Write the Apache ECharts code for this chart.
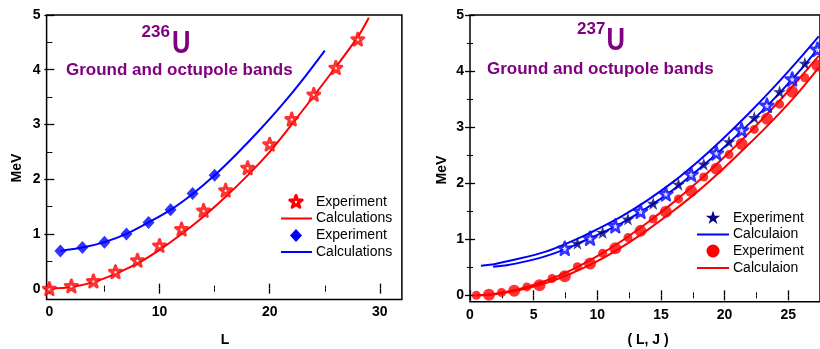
<!DOCTYPE html>
<html>
<head>
<meta charset="utf-8">
<script src="https://cdn.jsdelivr.net/npm/echarts@6/dist/echarts.min.js"></script>
<style>
html,body{margin:0;padding:0;background:#fff;}
#chart{width:820px;height:349px;}
</style>
</head>
<body>
<div id="chart"></div>
<script>
// ---------- Left panel: 236U ----------
const u236GroundL = [0, 2, 4, 6, 8, 10, 12, 14, 16, 18, 20, 22, 24, 26, 28];
const u236GroundExp = [0, 0.05, 0.14, 0.31, 0.52, 0.79, 1.09, 1.43, 1.80, 2.21, 2.64, 3.10, 3.55, 4.04, 4.56];
const u236OctL = [1, 3, 5, 7, 9, 11, 13, 15];
const u236OctExp = [0.69, 0.75, 0.85, 1.00, 1.21, 1.44, 1.74, 2.07];
const u236GroundCalcL = [0, 2, 4, 6, 8, 10, 12, 14, 16, 18, 20, 22, 24, 26, 28, 29];
const u236GroundCalc = [0, 0.03, 0.12, 0.27, 0.46, 0.71, 1.00, 1.32, 1.68, 2.07, 2.50, 3.00, 3.52, 4.05, 4.60, 4.95];
const u236OctCalcL = [1, 3, 5, 7, 9, 11, 13, 15, 17, 19, 21, 23, 25];
const u236OctCalc = [0.69, 0.75, 0.85, 1.00, 1.21, 1.44, 1.73, 2.07, 2.46, 2.88, 3.33, 3.82, 4.35];

// ---------- Right panel: 237U ----------
const u237RedJ = [0.5, 1.5, 2.5, 3.5, 4.5, 5.5, 6.5, 7.5, 8.5, 9.5, 10.5, 11.5, 12.5, 13.5, 14.5, 15.5, 16.5, 17.5, 18.5, 19.5, 20.5, 21.5, 22.5, 23.5, 24.5, 25.5, 26.5, 27.5];
const u237RedExp = [0.0, 0.01, 0.05, 0.08, 0.15, 0.18, 0.30, 0.34, 0.51, 0.57, 0.75, 0.84, 1.03, 1.15, 1.36, 1.49, 1.72, 1.86, 2.11, 2.26, 2.51, 2.70, 2.96, 3.15, 3.41, 3.63, 3.88, 4.10];
const u237StarJ = [7.5, 8.5, 9.5, 10.5, 11.5, 12.5, 13.5, 14.5, 15.5, 16.5, 17.5, 18.5, 19.5, 20.5, 21.5, 22.5, 23.5, 24.5, 25.5, 26.5, 27.5];
const u237StarExp = [0.84, 0.93, 1.02, 1.12, 1.24, 1.36, 1.50, 1.64, 1.81, 1.98, 2.16, 2.34, 2.54, 2.74, 2.95, 3.17, 3.39, 3.63, 3.86, 4.14, 4.39];
const u237BlueCalc1J = [0.86, 2, 4, 6, 7.5, 9, 10, 12, 14, 16, 18, 20, 22, 24, 26, 27.6];
const u237BlueCalc1 = [0.53, 0.56, 0.66, 0.78, 0.91, 1.06, 1.17, 1.41, 1.69, 2.01, 2.38, 2.79, 3.23, 3.70, 4.20, 4.62];
const u237BlueCalc2J = [1.83, 3, 4.5, 6, 7.5, 9, 10, 12, 14, 16, 18, 20, 22, 24, 26, 27.6];
const u237BlueCalc2 = [0.51, 0.54, 0.61, 0.70, 0.82, 0.97, 1.07, 1.29, 1.56, 1.87, 2.23, 2.62, 3.04, 3.49, 3.98, 4.42];
const u237RedCalc1J = [0.5, 2, 4, 6, 8, 10, 12, 14, 16, 18, 20, 22, 24, 26, 27.6];
const u237RedCalc1 = [0, 0.03, 0.12, 0.26, 0.45, 0.69, 0.97, 1.29, 1.64, 2.02, 2.44, 2.88, 3.35, 3.85, 4.27];
const u237RedCalc2J = [0.5, 2, 4, 6, 8, 10, 12, 14, 16, 18, 20, 22, 24, 26, 27.6];
const u237RedCalc2 = [0, 0.02, 0.10, 0.22, 0.39, 0.60, 0.86, 1.16, 1.49, 1.85, 2.25, 2.68, 3.13, 3.62, 4.06];

// ---------- Text ----------
const leftTitleSup = '236';
const rightTitleSup = '237';
const titleElement = 'U';
const subtitle = 'Ground and octupole bands';
const yName = 'MeV';
const leftXName = 'L';
const rightXName = '( L, J )';
const leftLegend = ['Experiment', 'Calculations', 'Experiment', 'Calculations'];
const rightLegend = ['Experiment', 'Calculaion', 'Experiment', 'Calculaion'];

const zip = (xs, ys) => xs.map((x, i) => [x, ys[i]]);
const FONT = '"Liberation Sans", Arial, sans-serif';
const RED = '#FF0000', BLUE = '#0000FF', NAVY = '#000080', PURPLE = '#800080';
const starPath = 'path://M0,-1L0.2245,-0.309L0.951,-0.309L0.363,0.118L0.588,0.809L0,0.382L-0.588,0.809L-0.363,0.118L-0.951,-0.309L-0.2245,-0.309Z';

function tickAxis(extra) {
  return Object.assign({
    type: 'value',
    axisLine: { show: false },
    axisTick: { show: true, inside: true, length: 5, lineStyle: { color: '#000', width: 1.3 } },
    minorTick: { show: true, splitNumber: 2, length: 3, lineStyle: { color: '#000', width: 1 } },
    splitLine: { show: false },
    minorSplitLine: { show: false },
    axisLabel: { show: true, color: '#000', fontWeight: 'bold', fontSize: 14, fontFamily: FONT, margin: 6 }
  }, extra);
}
function noLabel(a) { a.axisLabel = { show: false }; return a; }

function starPoints(cx, cy, R) {
  const pts = [];
  for (let i = 0; i < 10; i++) {
    const ang = -Math.PI / 2 + i * Math.PI / 5;
    const r = i % 2 === 0 ? R : R * 0.382;
    pts.push([cx + r * Math.cos(ang), cy + r * Math.sin(ang)]);
  }
  return pts;
}

const legendFont = '14px ' + FONT;
const graphic = [
  // Left title
  { type: 'text', x: 141.5, y: 32.5, style: { text: leftTitleSup, font: 'bold 17px ' + FONT, fill: PURPLE, align: 'left', verticalAlign: 'middle' } },
  { type: 'text', x: 172, y: 44, scaleX: 0.8, style: { text: titleElement, font: 'bold 32px ' + FONT, fill: PURPLE, align: 'left', verticalAlign: 'middle' } },
  { type: 'text', x: 66, y: 70, style: { text: subtitle, font: 'bold 17px ' + FONT, fill: PURPLE, align: 'left', verticalAlign: 'middle' } },
  // Right title
  { type: 'text', x: 577, y: 29.5, style: { text: rightTitleSup, font: 'bold 17px ' + FONT, fill: PURPLE, align: 'left', verticalAlign: 'middle' } },
  { type: 'text', x: 606.5, y: 41, scaleX: 0.8, style: { text: titleElement, font: 'bold 32px ' + FONT, fill: PURPLE, align: 'left', verticalAlign: 'middle' } },
  { type: 'text', x: 487, y: 69, style: { text: subtitle, font: 'bold 17px ' + FONT, fill: PURPLE, align: 'left', verticalAlign: 'middle' } },
  // Axis names
  { type: 'text', x: 17, y: 168, rotation: Math.PI / 2, style: { text: yName, font: 'bold 14px ' + FONT, fill: '#000', align: 'center', verticalAlign: 'middle' } },
  { type: 'text', x: 442, y: 170, rotation: Math.PI / 2, style: { text: yName, font: 'bold 14px ' + FONT, fill: '#000', align: 'center', verticalAlign: 'middle' } },
  { type: 'text', x: 225, y: 340, style: { text: leftXName, font: 'bold 14px ' + FONT, fill: '#000', align: 'center', verticalAlign: 'middle' } },
  { type: 'text', x: 648, y: 340, style: { text: rightXName, font: 'bold 14px ' + FONT, fill: '#000', align: 'center', verticalAlign: 'middle' } },
  // Left legend
  { type: 'polygon', shape: { points: starPoints(296, 202, 6.5) }, style: { fill: '#fff', stroke: RED, lineWidth: 3, lineJoin: 'round' } },
  { type: 'line', shape: { x1: 281, y1: 218.5, x2: 312, y2: 218.5 }, style: { stroke: RED, lineWidth: 2 } },
  { type: 'polygon', shape: { points: [[296, 229], [302, 235.5], [296, 242], [290, 235.5]] }, style: { fill: BLUE } },
  { type: 'line', shape: { x1: 281, y1: 252, x2: 312, y2: 252 }, style: { stroke: BLUE, lineWidth: 2 } },
  { type: 'text', x: 316, y: 202, style: { text: leftLegend[0], font: legendFont, fill: '#000', verticalAlign: 'middle' } },
  { type: 'text', x: 316, y: 218.5, style: { text: leftLegend[1], font: legendFont, fill: '#000', verticalAlign: 'middle' } },
  { type: 'text', x: 316, y: 235.5, style: { text: leftLegend[2], font: legendFont, fill: '#000', verticalAlign: 'middle' } },
  { type: 'text', x: 316, y: 252, style: { text: leftLegend[3], font: legendFont, fill: '#000', verticalAlign: 'middle' } },
  // Right legend
  { type: 'polygon', shape: { points: starPoints(713, 218, 7.5) }, style: { fill: NAVY } },
  { type: 'line', shape: { x1: 697, y1: 234.5, x2: 729, y2: 234.5 }, style: { stroke: BLUE, lineWidth: 2 } },
  { type: 'circle', shape: { cx: 713, cy: 251, r: 6.5 }, style: { fill: RED } },
  { type: 'line', shape: { x1: 697, y1: 268, x2: 729, y2: 268 }, style: { stroke: RED, lineWidth: 2 } },
  { type: 'text', x: 733, y: 218, style: { text: rightLegend[0], font: legendFont, fill: '#000', verticalAlign: 'middle' } },
  { type: 'text', x: 733, y: 234.5, style: { text: rightLegend[1], font: legendFont, fill: '#000', verticalAlign: 'middle' } },
  { type: 'text', x: 733, y: 251, style: { text: rightLegend[2], font: legendFont, fill: '#000', verticalAlign: 'middle' } },
  { type: 'text', x: 733, y: 268, style: { text: rightLegend[3], font: legendFont, fill: '#000', verticalAlign: 'middle' } }
];

const frame = { show: true, borderColor: '#000', borderWidth: 1.5, backgroundColor: 'transparent' };

function calcLine(xIdx, xs, ys, color) {
  return { type: 'line', xAxisIndex: xIdx, yAxisIndex: xIdx, data: zip(xs, ys), smooth: 0.3,
    showSymbol: false, symbol: 'none', lineStyle: { color: color, width: 2 }, clip: true, z: 2 };
}

const option = {
  animation: false,
  backgroundColor: '#fff',
  grid: [
    Object.assign({ left: 46.6, top: 15, width: 355.3, height: 284.6 }, frame),
    { left: 49.35, top: 15, width: 330.5, height: 273.65 },
    Object.assign({ left: 470, top: 15, width: 352.6, height: 286.8 }, frame),
    { left: 470, top: 15, width: 318.25, height: 280.35 }
  ],
  xAxis: [
    { type: 'value', gridIndex: 0, min: -0.25, max: 32, show: false },
    tickAxis({ gridIndex: 1, min: 0, max: 30, interval: 10, position: 'bottom', offset: 10.95 }),
    noLabel(tickAxis({ gridIndex: 1, min: 0, max: 30, interval: 10, position: 'top' })),
    { type: 'value', gridIndex: 2, min: 0, max: 27.7, show: false },
    tickAxis({ gridIndex: 3, min: 0, max: 25, interval: 5, position: 'bottom', offset: 6.45 }),
    noLabel(tickAxis({ gridIndex: 3, min: 0, max: 25, interval: 5, position: 'top' }))
  ],
  yAxis: [
    { type: 'value', gridIndex: 0, min: -0.2, max: 5, show: false },
    tickAxis({ gridIndex: 1, min: 0, max: 5, interval: 1, position: 'left', offset: 2.75 }),
    noLabel(tickAxis({ gridIndex: 1, min: 0, max: 5, interval: 1, position: 'right', offset: 22.05 })),
    { type: 'value', gridIndex: 2, min: -0.115, max: 5, show: false },
    tickAxis({ gridIndex: 3, min: 0, max: 5, interval: 1, position: 'left', offset: 0 }),
    noLabel(tickAxis({ gridIndex: 3, min: 0, max: 5, interval: 1, position: 'right', offset: 34.35 }))
  ],
  graphic: graphic,
  series: [
    // Left panel
    calcLine(0, u236GroundCalcL, u236GroundCalc, RED),
    calcLine(0, u236OctCalcL, u236OctCalc, BLUE),
    { type: 'scatter', xAxisIndex: 0, yAxisIndex: 0, data: zip(u236GroundL, u236GroundExp), symbol: starPath, symbolSize: 12, itemStyle: { color: '#fff', borderColor: RED, borderWidth: 3, borderJoin: 'round' }, clip: false, z: 3 },
    { type: 'scatter', xAxisIndex: 0, yAxisIndex: 0, data: zip(u236OctL, u236OctExp), symbol: 'diamond', symbolSize: [12, 13], itemStyle: { color: BLUE }, clip: false, z: 3 },
    // Right panel
    calcLine(3, u237BlueCalc1J, u237BlueCalc1, BLUE),
    calcLine(3, u237BlueCalc2J, u237BlueCalc2, BLUE),
    calcLine(3, u237RedCalc1J, u237RedCalc1, RED),
    calcLine(3, u237RedCalc2J, u237RedCalc2, RED),
    { type: 'scatter', xAxisIndex: 3, yAxisIndex: 3, data: zip(u237RedJ, u237RedExp),
      symbol: 'circle', symbolSize: (v, p) => (p.dataIndex % 2 === 1 ? 12 : 9), itemStyle: { color: RED }, z: 3 },
    { type: 'scatter', xAxisIndex: 3, yAxisIndex: 3,
      data: zip(u237StarJ, u237StarExp).map((d, i) => (i % 2 === 0
        ? { value: d, symbolSize: 13, itemStyle: { color: '#fff', borderColor: BLUE, borderWidth: 2.5, borderJoin: 'round' } }
        : { value: d, symbolSize: 13, itemStyle: { color: NAVY, borderWidth: 0 } })),
      symbol: starPath, z: 3 }
  ]
};

const chart = echarts.init(document.getElementById('chart'), null, { renderer: 'canvas' });
chart.setOption(option);
</script>
</body>
</html>
